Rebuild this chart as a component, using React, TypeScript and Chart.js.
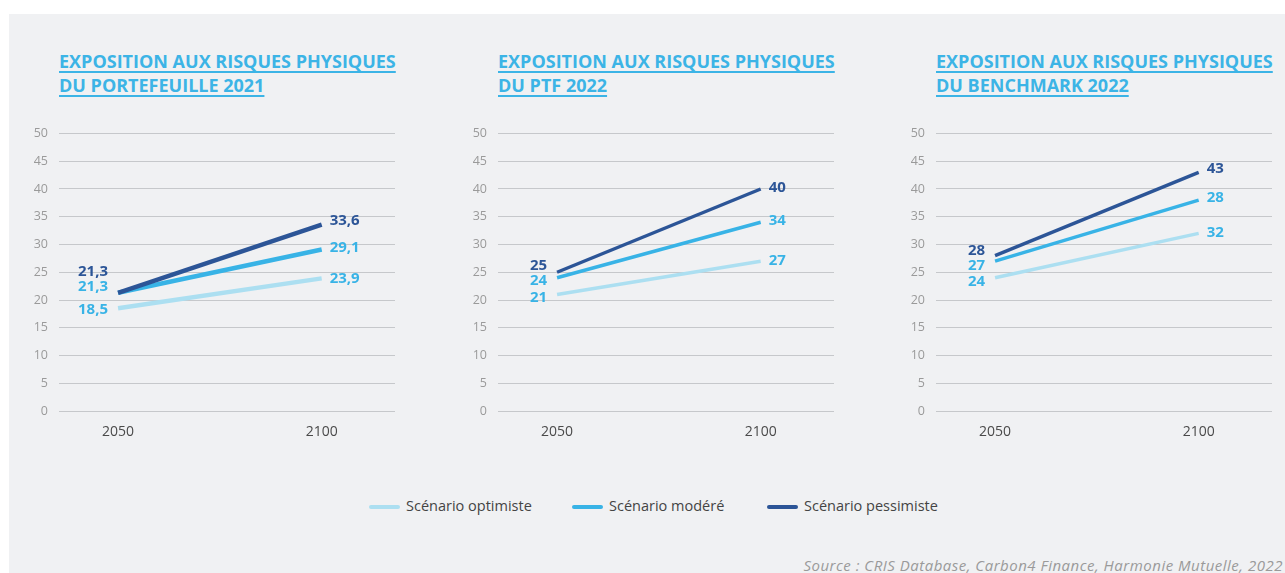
import React, { useEffect, useRef } from "react";
import { Chart, registerables } from "chart.js";

Chart.register(...registerables);

// ---- Data ----
const years = [2050, 2100];
const seriesNames = ["Scénario optimiste", "Scénario modéré", "Scénario pessimiste"];

const c1Optimiste = [18.5, 23.9];
const c1Modere = [21.3, 29.1];
const c1Pessimiste = [21.3, 33.6];
const c1LabelsOptimiste = ["18,5", "23,9"];
const c1LabelsModere = ["21,3", "29,1"];
const c1LabelsPessimiste = ["21,3", "33,6"];

const c2Optimiste = [21, 27];
const c2Modere = [24, 34];
const c2Pessimiste = [25, 40];
const c2LabelsOptimiste = ["21", "27"];
const c2LabelsModere = ["24", "34"];
const c2LabelsPessimiste = ["25", "40"];

const c3Optimiste = [24, 32];
const c3Modere = [27, 38];
const c3Pessimiste = [28, 43];
const c3LabelsOptimiste = ["24", "32"];
const c3LabelsModere = ["27", "28"];
const c3LabelsPessimiste = ["28", "43"];

const yTicks = [0, 5, 10, 15, 20, 25, 30, 35, 40, 45, 50];

const titles = [
  ["EXPOSITION AUX RISQUES PHYSIQUES", "DU PORTEFEUILLE 2021"],
  ["EXPOSITION AUX RISQUES PHYSIQUES", "DU PTF 2022"],
  ["EXPOSITION AUX RISQUES PHYSIQUES", "DU BENCHMARK 2022"],
];
const sourceText = "Source : CRIS Database, Carbon4 Finance, Harmonie Mutuelle, 2022";

// ---- Styles ----
const COLORS = ["#acdff1", "#38b3e6", "#2c5597"];
const LABEL_COLORS = ["#38b3e6", "#38b3e6", "#2c5597"];
const FONT = "'Open Sans', sans-serif";
const BG = "#f0f1f3";

// label offsets [dataset][pointIndex] -> dy (px)
const labelDy = [
  [[1, 0], [-6, -2], [-21, -4]],
  [[3, 0], [3, -2], [-7, -1]],
  [[4, -1], [5, -2], [-5, -4]],
];

const charts = [
  { left: 20, values: [c1Optimiste, c1Modere, c1Pessimiste], labels: [c1LabelsOptimiste, c1LabelsModere, c1LabelsPessimiste], lineWidth: 4.5, dy: labelDy[0] },
  { left: 459, values: [c2Optimiste, c2Modere, c2Pessimiste], labels: [c2LabelsOptimiste, c2LabelsModere, c2LabelsPessimiste], lineWidth: 3.5, dy: labelDy[1] },
  { left: 897, values: [c3Optimiste, c3Modere, c3Pessimiste], labels: [c3LabelsOptimiste, c3LabelsModere, c3LabelsPessimiste], lineWidth: 3.5, dy: labelDy[2] },
];

const labelPlugin = {
  id: "pointLabels",
  afterDatasetsDraw(chart: any) {
    const ctx = chart.ctx;
    const labels = chart.options.plugins.pointLabels.labels as string[][];
    const dy = chart.options.plugins.pointLabels.dy as number[][];
    ctx.save();
    ctx.font = `bold 15px ${FONT}`;
    ctx.textBaseline = "middle";
    chart.data.datasets.forEach((ds: any, di: number) => {
      const meta = chart.getDatasetMeta(di);
      meta.data.forEach((pt: any, pi: number) => {
        ctx.fillStyle = LABEL_COLORS[di];
        if (pi === 0) {
          ctx.textAlign = "right";
          ctx.fillText(labels[di][pi], pt.x - 10, pt.y + dy[di][pi]);
        } else {
          ctx.textAlign = "left";
          ctx.fillText(labels[di][pi], pt.x + 8, pt.y + dy[di][pi]);
        }
      });
    });
    ctx.restore();
  },
};

function LineChart({ def }: { def: any }) {
  const ref = useRef<HTMLCanvasElement>(null);
  useEffect(() => {
    if (!ref.current) return;
    const chart = new Chart(ref.current, {
      type: "line",
      data: {
        datasets: def.values.map((vals: number[], i: number) => ({
          label: seriesNames[i],
          data: vals.map((v, j) => ({ x: years[j], y: v })),
          borderColor: COLORS[i],
          backgroundColor: COLORS[i],
          borderWidth: def.lineWidth,
          pointRadius: 0,
          order: 2 - i,
          tension: 0,
        })),
      },
      options: {
        animation: false,
        responsive: false,
        maintainAspectRatio: false,
        layout: { padding: { top: 7, right: 25, left: 0, bottom: 0 } },
        plugins: {
          legend: { display: false },
          tooltip: { enabled: false },
          pointLabels: { labels: def.labels, dy: def.dy },
        } as any,
        scales: {
          x: {
            type: "linear",
            min: 2035.5,
            max: 2118,
            afterBuildTicks: (s: any) => {
              s.ticks = years.map((v) => ({ value: v }));
            },
            afterFit: (s: any) => {
              s.height = 39;
            },
            grid: { display: false, drawTicks: false },
            border: { display: false },
            ticks: {
              padding: 13,
              color: "#4a4a4a",
              font: { family: FONT, size: 14 },
              callback: (v: any) => String(v),
            },
          },
          y: {
            min: 0,
            max: 50,
            afterBuildTicks: (s: any) => {
              s.ticks = yTicks.map((v) => ({ value: v }));
            },
            afterFit: (s: any) => {
              s.width = 39;
            },
            grid: { color: "#c6c8cb", lineWidth: 1, drawTicks: false },
            border: { display: false },
            ticks: {
              padding: 11,
              color: "#9a9a9a",
              font: { family: FONT, size: 12.5 },
            },
          },
        },
      },
      plugins: [labelPlugin],
    });
    return () => chart.destroy();
  }, []);
  return (
    <canvas
      ref={ref}
      width={400}
      height={335}
      style={{ position: "absolute", left: def.left, top: 115, width: 400, height: 335 }}
    />
  );
}

const titleLefts = [59, 498, 936];
const legendItems = [
  { swatch: 369, text: 406 },
  { swatch: 572, text: 609 },
  { swatch: 767, text: 804 },
];

export default function App() {
  return (
    <div style={{ position: "absolute", left: 0, top: 0, width: 1285, height: 573, background: "#ffffff", overflow: "hidden" }}>
      <div style={{ position: "absolute", left: 9, top: 14, width: 1276, height: 559, background: BG }} />
      {titles.map((t, i) => (
        <div
          key={i}
          style={{
            position: "absolute",
            left: titleLefts[i],
            top: 49,
            fontFamily: FONT,
            fontWeight: 700,
            fontSize: 18,
            lineHeight: "24px",
            color: "#3cb4e6",
            textDecoration: "underline",
            textDecorationThickness: "2px",
            textUnderlineOffset: "3px",
            whiteSpace: "nowrap",
          }}
        >
          {t[0]}
          <br />
          {t[1]}
        </div>
      ))}
      {charts.map((c, i) => (
        <LineChart key={i} def={c} />
      ))}
      {legendItems.map((it, i) => (
        <React.Fragment key={i}>
          <div style={{ position: "absolute", left: it.swatch, top: 505, width: 31, height: 3.5, background: COLORS[i], borderRadius: 2 }} />
          <div
            style={{
              position: "absolute",
              left: it.text,
              top: 496,
              fontFamily: FONT,
              fontSize: 14.5,
              lineHeight: "20px",
              color: "#444",
              whiteSpace: "nowrap",
            }}
          >
            {seriesNames[i]}
          </div>
        </React.Fragment>
      ))}
      <div
        style={{
          position: "absolute",
          right: 2,
          top: 555,
          fontFamily: FONT,
          fontStyle: "italic",
          fontSize: 15,
          letterSpacing: "0.5px",
          lineHeight: "20px",
          color: "#9a9a9a",
          whiteSpace: "nowrap",
        }}
      >
        {sourceText}
      </div>
    </div>
  );
}
